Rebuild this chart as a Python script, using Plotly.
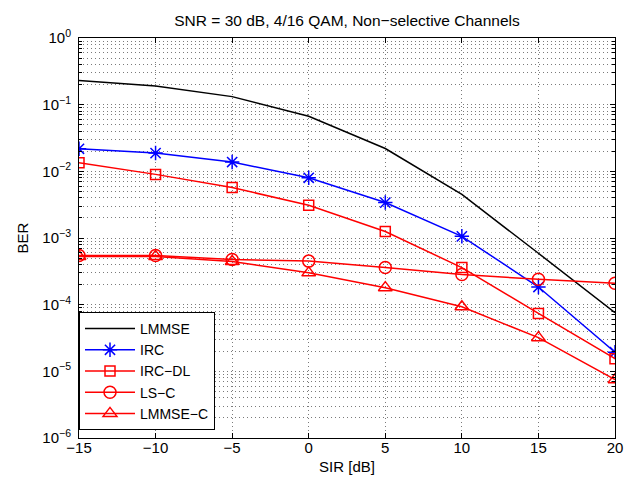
import plotly.graph_objects as go

sir = [-15, -10, -5, 0, 5, 10, 15, 20]

lmmse = [0.23, 0.19, 0.132, 0.067, 0.022, 0.0045, 5.9e-4, 7.6e-5]
irc = [0.0218, 0.0188, 0.0138, 0.0080, 0.0034, 0.00106, 1.84e-4, 1.94e-5]
irc_dl = [0.0135, 0.0090, 0.0057, 0.0031, 0.00125, 3.6e-4, 7.4e-5, 1.55e-5]
ls_c = [5.45e-4, 5.45e-4, 4.75e-4, 4.5e-4, 3.6e-4, 2.84e-4, 2.4e-4, 2.1e-4]
lmmse_c = [5.3e-4, 5.3e-4, 4.45e-4, 3.0e-4, 1.8e-4, 9.3e-5, 3.2e-5, 7.5e-6]

x_ticks = [-15, -10, -5, 0, 5, 10, 15, 20]
y_exps = [-6, -5, -4, -3, -2, -1, 0]

FONT = "Liberation Sans, Arial, sans-serif"

fig = go.Figure()
series = [
    ("LMMSE", lmmse, "black", None),
    ("IRC", irc, "blue", "asterisk-open"),
    ("IRC\u2212DL", irc_dl, "red", "square-open"),
    ("LS\u2212C", ls_c, "red", "circle-open"),
    ("LMMSE\u2212C", lmmse_c, "red", "triangle-up-open"),
]
for name, vals, color, sym in series:
    if sym is None:
        fig.add_trace(go.Scatter(x=sir, y=vals, name=name, mode="lines",
                                 line=dict(color=color, width=1.5)))
    else:
        fig.add_trace(go.Scatter(x=sir, y=vals, name=name, mode="lines+markers",
                                 line=dict(color=color, width=1.5),
                                 marker=dict(symbol=sym, size=12 if sym != "square-open" else 10,
                                             color=color, line=dict(color=color, width=1.5))))

minor_vals = []
for e in range(-6, 0):
    for m in range(2, 10):
        minor_vals.append(m * 10.0 ** e)

grid_dash = "1px,3px"
grid_col = "#7a7a7a"
fig.update_layout(
    width=632, height=477,
    margin=dict(l=71, r=25, t=30, b=44),
    paper_bgcolor="white", plot_bgcolor="white",
    font=dict(family=FONT, size=15, color="black"),
    title=dict(text="SNR = 30 dB, 4/16 QAM, Non\u2212selective Channels",
               x=(71 + 607) / 2 / 632, xanchor="center", y=1 - 13 / 477, yanchor="middle",
               font=dict(size=15.5)),
    showlegend=True,
    legend=dict(x=0.0, y=0.02, xanchor="left", yanchor="bottom",
                bgcolor="white", bordercolor="black", borderwidth=1,
                font=dict(size=14), itemwidth=50, tracegroupgap=0),
)
fig.update_xaxes(
    range=[-15, 20], tickvals=x_ticks,
    showline=True, linecolor="black", linewidth=1, mirror="ticks",
    ticks="inside", ticklen=5, tickcolor="black",
    showgrid=True, gridcolor=grid_col, griddash=grid_dash, gridwidth=1,
    zeroline=False, ticklabelstandoff=-4,
    title=dict(text="SIR [dB]", standoff=6, font=dict(size=15)),
    tickfont=dict(size=15),
)
fig.update_yaxes(
    type="log", range=[-6, 0],
    tickvals=[10.0 ** e for e in y_exps],
    ticktext=["10<sup>%s</sup>" % (str(e).replace("-", "\u2212")) for e in y_exps],
    showline=True, linecolor="black", linewidth=1, mirror="ticks",
    ticks="inside", ticklen=5, tickcolor="black",
    showgrid=True, gridcolor=grid_col, griddash=grid_dash, gridwidth=1,
    zeroline=False, ticklabelstandoff=4,
    minor=dict(tickvals=minor_vals, ticks="inside", ticklen=3, tickcolor="black",
               showgrid=True, gridcolor=grid_col, griddash=grid_dash, gridwidth=1),
    title=dict(text="BER", standoff=10, font=dict(size=15)),
    tickfont=dict(size=15),
)

fig.write_html("out.html")
